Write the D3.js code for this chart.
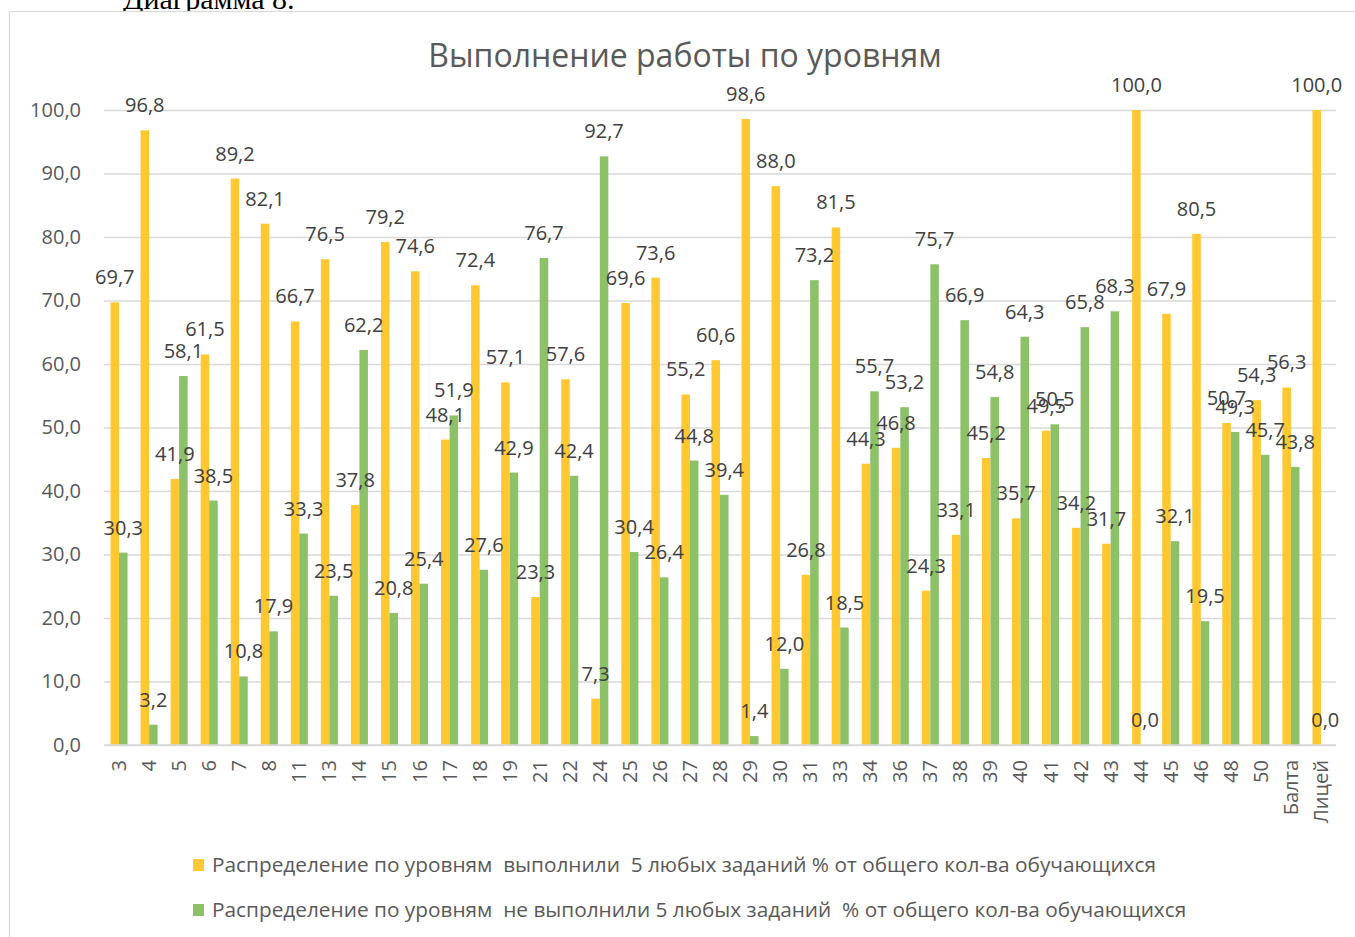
<!DOCTYPE html>
<html><head><meta charset="utf-8">
<script src="https://cdn.jsdelivr.net/npm/d3@7"></script>
<style>body{margin:0;background:#fff;} svg{display:block;}</style>
</head><body>
<svg id="c" width="1355" height="937"></svg>
<script>
const categories = ["3","4","5","6","7","8","11","13","14","15","16","17","18","19","21","22","24","25","26","27","28","29","30","31","33","34","36","37","38","39","40","41","42","43","44","45","46","48","50","Балта","Лицей"];
const doneValues = [69.7,96.8,41.9,61.5,89.2,82.1,66.7,76.5,37.8,79.2,74.6,48.1,72.4,57.1,23.3,57.6,7.3,69.6,73.6,55.2,60.6,98.6,88.0,26.8,81.5,44.3,46.8,24.3,33.1,45.2,35.7,49.5,34.2,31.7,100.0,67.9,80.5,50.7,54.3,56.3,100.0];
const notDoneValues = [30.3,3.2,58.1,38.5,10.8,17.9,33.3,23.5,62.2,20.8,25.4,51.9,27.6,42.9,76.7,42.4,92.7,30.4,26.4,44.8,39.4,1.4,12.0,73.2,18.5,55.7,53.2,75.7,66.9,54.8,64.3,50.5,65.8,68.3,0.0,32.1,19.5,49.3,45.7,43.8,0.0];
const yTicks = [0,10,20,30,40,50,60,70,80,90,100];
const seriesNames = ["Распределение по уровням  выполнили  5 любых заданий % от общего кол-ва обучающихся",
                     "Распределение по уровням  не выполнили 5 любых заданий  % от общего кол-ва обучающихся"];
const title = "Выполнение работы по уровням";
const colors = ["#FFC830", "#8CC168"];

const svg = d3.select("#c");
const FONT = "'Open Sans', sans-serif";
const fmt = v => d3.format(".1f")(v).replace(".", ",");

// caption cut at top
svg.append("text").attr("x", 123).attr("y", 9)
  .attr("font-family", "'Liberation Serif', serif").attr("font-size", 30)
  .attr("fill", "#000").text("Диаграмма 8.");

// chart border
svg.append("rect").attr("x", 9.5).attr("y", 11.5).attr("width", 1360).attr("height", 940)
  .attr("fill", "#fff").attr("stroke", "#d9d9d9").attr("stroke-width", 1.2);

const x0 = d3.scaleBand().domain(categories).range([104, 1336]).paddingInner(0.433).paddingOuter(0.2165);
const x1 = d3.scaleBand().domain([0, 1]).range([0, x0.bandwidth()]);
const y = d3.scaleLinear().domain([0, 100]).range([745, 110]);

// gridlines
const yAxis = d3.axisLeft(y).tickValues(yTicks).tickSize(-(1336 - 104)).tickFormat(fmt);
const gy = svg.append("g").attr("transform", "translate(104,0)").call(yAxis);
gy.select(".domain").remove();
gy.selectAll(".tick line").attr("stroke", "#d9d9d9").attr("stroke-width", 1.5);
gy.selectAll(".tick text").attr("x", -23).attr("font-family", FONT).attr("font-size", 20).attr("fill", "#595959");

// bars
const series = [doneValues, notDoneValues];
series.forEach((vals, si) => {
  svg.append("g").selectAll("rect").data(vals).join("rect")
    .attr("x", (d, i) => x0(categories[i]) + x1(si))
    .attr("width", x1.bandwidth())
    .attr("y", d => y(d))
    .attr("height", d => y(0) - y(d))
    .attr("fill", colors[si]);
});
// labels
series.forEach((vals, si) => {
  svg.append("g").selectAll("text").data(vals).join("text")
    .attr("x", (d, i) => x0(categories[i]) + x1(si) + x1.bandwidth() / 2)
    .attr("y", d => y(d) - 18)
    .attr("text-anchor", "middle")
    .attr("font-family", FONT).attr("font-size", 20).attr("fill", "#404040")
    .text(d => fmt(d));
});

// x axis line
svg.append("line").attr("x1", 104).attr("x2", 1336).attr("y1", y(0)).attr("y2", y(0))
  .attr("stroke", "#d9d9d9").attr("stroke-width", 1.5);

// x tick labels rotated
svg.append("g").selectAll("text").data(categories).join("text")
  .attr("transform", d => `translate(${x0(d) + x0.bandwidth() / 2 + 7},760) rotate(-90)`)
  .attr("text-anchor", "end")
  .attr("font-family", FONT).attr("font-size", 20).attr("fill", "#595959")
  .text(d => d);

// title
svg.append("text").attr("x", 685).attr("y", 67).attr("text-anchor", "middle")
  .attr("font-family", FONT).attr("font-size", 32).attr("fill", "#595959").text(title);

// legend
seriesNames.forEach((name, i) => {
  const ly = 872 + i * 45;
  svg.append("rect").attr("x", 193).attr("y", ly - 13).attr("width", 11).attr("height", 12).attr("fill", colors[i]);
  svg.append("text").attr("x", 212).attr("y", ly).attr("font-family", FONT).attr("font-size", 20.8)
    .style("white-space", "pre").attr("xml:space", "preserve")
    .attr("fill", "#595959").text(name);
});
</script>
</body></html>
